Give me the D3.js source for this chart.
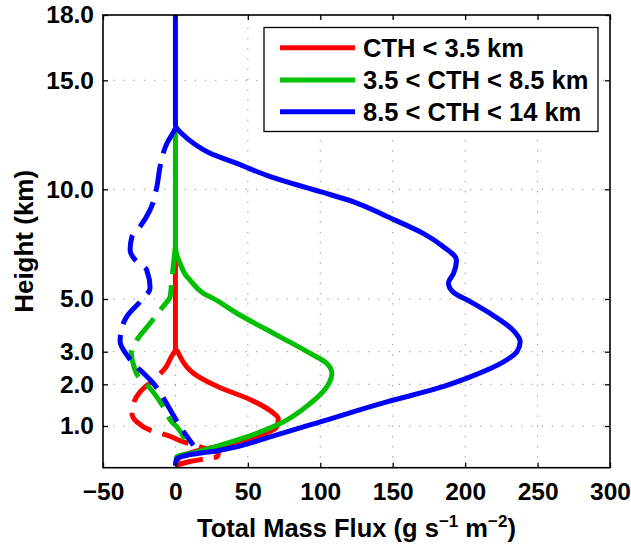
<!DOCTYPE html>
<html>
<head>
<meta charset="utf-8">
<script src="https://cdn.jsdelivr.net/npm/d3@7"></script>
<style>
  body { margin: 0; background: #fff; }
  svg text { font-family: "Liberation Sans", Arial, Helvetica, sans-serif; font-weight: bold; fill: #000; }
</style>
</head>
<body>
<svg id="chart" width="631" height="544"></svg>
<script>
// ticks
const xTicks = [-50, 0, 50, 100, 150, 200, 250, 300]
const yTicks = [1, 2, 3, 5, 10, 15, 18]

// legend names
const names = ['CTH < 3.5 km', '3.5 < CTH < 8.5 km', '8.5 < CTH < 14 km']

// [mass flux, height km], top to bottom
const redUp = [[0,7.4],[0,3.1],[1,3.04],[3.2,2.85],[7.9,2.53],[12.4,2.34],[29.5,1.94],[52.5,1.62],[66.5,1.34],[71,1.18],[70,0.98],[62,0.82],[40,0.58],[17,0.42],[3.2,0.26],[0,0.05]]
const redDown = [[0,3.05],[-2.5,2.87],[-7.1,2.49],[-14,2.18],[-24.4,1.82],[-29,1.54],[-30,1.3],[-26.7,1.1],[-17.5,0.9],[-5.9,0.78],[5.5,0.62],[17,0.5],[24,0.42],[29.7,0.35],[28.6,0.26],[21.7,0.22],[10,0.15],[0,0.05]]
const greenUp = [[0,12.8],[0,7.4],[1,7.0],[3,6.65],[7.9,6.02],[10,5.87],[19.3,5.26],[26,5.03],[42.4,4.46],[70,3.63],[93,2.95],[104.5,2.64],[108,2.34],[104.5,1.94],[93,1.54],[72.3,1.06],[42.4,0.66],[14.8,0.38],[1,0.26],[0,0.05]]
const greenDown = [[0,7.4],[-1,6.8],[-2.5,5.87],[-3.7,5.1],[-8.3,4.73],[-17.5,4.08],[-26.7,3.44],[-30.5,3.0],[-29,2.6],[-25.5,2.23],[-19.5,1.98],[-8.3,1.46],[-2.5,1.1],[1,0.98],[7.5,0.58]]
const blueUp = [[0,18],[0,12.95],[5.5,12.49],[12.4,12.11],[24,11.65],[42.4,11.19],[65.4,10.58],[100,9.89],[123,9.43],[146,8.76],[171,7.99],[185,7.38],[194,6.78],[192,6.17],[188.5,5.72],[192,5.3],[203.5,4.9],[217,4.46],[233,3.82],[238,3.38],[235.8,3.0],[226.5,2.69],[203.5,2.23],[180.5,1.9],[146,1.58],[100,1.1],[65.4,0.74],[30.9,0.42],[8,0.3],[1,0.22],[0,0.05]]
const blueDown = [[0,12.8],[-1.4,12.62],[-5.9,12.1],[-10.6,11.04],[-12.8,10.12],[-17.5,9.06],[-24.4,8.3],[-30,7.85],[-31.3,7.23],[-27.8,6.78],[-19.8,6.32],[-17.5,5.5],[-24.4,4.9],[-33.6,4.33],[-35.9,4.08],[-38.2,3.4],[-33.6,2.9],[-26.7,2.53],[-22,2.34],[-15.2,2.03],[-11.7,1.86],[-4.8,1.46],[3,1.0],[12.4,0.54]]

const colors = ['#ff0000', '#00bf00', '#0000ff']

const svg = d3.select('#chart')
const L = 103, R = 610, T = 15, B = 467.7

const x = d3.scaleLinear().domain([-50, 300]).range([L, R])
// the height axis is stretched below 5 km in the original
const y = d3.scaleLinear()
  .domain([0, 1, 2, 3, 5, 10, 15, 18])
  .range([B, 426, 384.3, 351.7, 299, 189.3, 80.3, T])

// dotted grid
const grid = svg.append('g').attr('stroke', '#8a8a8a').attr('stroke-width', 1).attr('stroke-dasharray', '1.2,9')
grid.selectAll('.gx').data(xTicks.slice(1, -1)).join('line')
  .attr('x1', d => x(d)).attr('x2', d => x(d)).attr('y1', B).attr('y2', T)
grid.selectAll('.gy').data(yTicks.slice(0, -1)).join('line')
  .attr('y1', d => y(d)).attr('y2', d => y(d)).attr('x1', L).attr('x2', R)

// curves
const line = d3.line().x(d => x(d[0])).y(d => y(d[1])).curve(d3.curveMonotoneY)
const series = [
  { d: redDown, c: 0, dash: true }, { d: redUp, c: 0 },
  { d: greenDown, c: 1, dash: true }, { d: greenUp, c: 1 },
  { d: blueDown, c: 2, dash: true }, { d: blueUp, c: 2 },
]
svg.append('g').selectAll('path').data(series).join('path')
  .attr('d', s => line(s.d))
  .attr('fill', 'none')
  .attr('stroke', s => colors[s.c])
  .attr('stroke-width', 5)
  .attr('stroke-linejoin', 'round')
  .attr('stroke-dasharray', s => s.dash ? '28,11' : null)

// axes (ticks point inward)
const fmtY = d3.format('.1f')
svg.append('g').attr('transform', `translate(0,${B})`)
  .call(d3.axisBottom(x).tickValues(xTicks).tickSize(-5).tickPadding(15))
svg.append('g').attr('transform', `translate(${L},0)`)
  .call(d3.axisLeft(y).tickValues(yTicks).tickFormat(fmtY).tickSize(-5).tickPadding(9))
svg.append('g').attr('transform', `translate(0,${T})`)
  .call(d3.axisTop(x).tickValues(xTicks).tickSize(-5).tickFormat(''))
svg.append('g').attr('transform', `translate(${R},0)`)
  .call(d3.axisRight(y).tickValues(yTicks).tickSize(-5).tickFormat(''))
svg.selectAll('.domain').remove()
svg.selectAll('.tick line').attr('stroke', '#000').attr('stroke-width', 1.3)
svg.selectAll('.tick text').style('font-size', '24.5px').attr('font-family', null)

svg.append('rect').attr('x', L).attr('y', T).attr('width', R - L).attr('height', B - T)
  .attr('fill', 'none').attr('stroke', '#000').attr('stroke-width', 1.6)

// axis titles
svg.append('text')
  .attr('transform', `translate(33,${(T + B) / 2}) rotate(-90)`)
  .attr('text-anchor', 'middle').style('font-size', '26px')
  .text('Height (km)')
const xt = svg.append('text')
  .attr('x', (L + R) / 2).attr('y', 537)
  .attr('text-anchor', 'middle').style('font-size', '25.5px')
xt.append('tspan').text('Total Mass Flux (g s')
xt.append('tspan').attr('dy', -10).style('font-size', '17px').text('\u22121')
xt.append('tspan').attr('dy', 10).text(' m')
xt.append('tspan').attr('dy', -10).style('font-size', '17px').text('\u22122')
xt.append('tspan').attr('dy', 10).text(')')

// legend
const lg = svg.append('g')
lg.append('rect').attr('x', 264).attr('y', 27.5).attr('width', 334).attr('height', 104)
  .attr('fill', '#fff').attr('stroke', '#000').attr('stroke-width', 1.3)
const rowsY = [47.7, 80, 111.7]
names.forEach((n, i) => {
  lg.append('line').attr('x1', 280).attr('x2', 355).attr('y1', rowsY[i]).attr('y2', rowsY[i])
    .attr('stroke', colors[i]).attr('stroke-width', 5)
  lg.append('text').attr('x', 363).attr('y', rowsY[i]).attr('dy', '0.36em')
    .style('font-size', '25.5px').text(n)
})
</script>
</body>
</html>
